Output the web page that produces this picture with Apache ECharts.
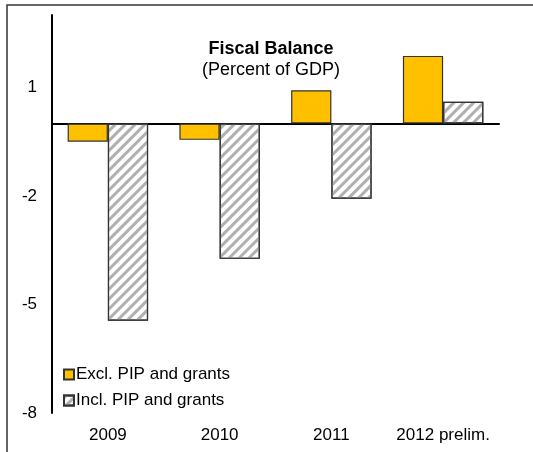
<!DOCTYPE html>
<html>
<head>
<meta charset="utf-8">
<script src="https://cdn.jsdelivr.net/npm/echarts@6/dist/echarts.min.js"></script>
<style>html,body{margin:0;padding:0;background:#fff;}#c{width:533px;height:452px;}</style>
</head>
<body>
<div id="c"></div>
<script>
const categories = ['2009', '2010', '2011', '2012 prelim.'];
const exclValues = [-0.5, -0.45, 0.92, 1.87];
const inclValues = [-5.45, -3.74, -2.08, 0.6];
const seriesNames = ['Excl. PIP and grants', 'Incl. PIP and grants'];
const titleText = 'Fiscal Balance';
const subtitleText = '(Percent of GDP)';

const chart = echarts.init(document.getElementById('c'), null, {renderer: 'canvas'});
const font = 'Liberation Sans, Arial, sans-serif';
chart.setOption({
  animation: false,
  backgroundColor: '#fff',
  textStyle: {fontFamily: font},
  graphic: [{
    type: 'rect', shape: {x: 7, y: 5, width: 600, height: 500},
    style: {fill: 'none', stroke: '#333', lineWidth: 1.5}, silent: true, z: -1
  }],
  title: {
    text: titleText, subtext: subtitleText, left: 266, top: 35, textAlign: 'center', itemGap: 3,
    textStyle: {fontFamily: font, fontSize: 18, fontWeight: 'bold', color: '#000'},
    subtextStyle: {fontFamily: font, fontSize: 18, color: '#000'}
  },
  legend: {
    orient: 'vertical', left: 58, top: 361, itemWidth: 10, itemHeight: 10, itemGap: 9, icon: 'rect',
    textStyle: {fontFamily: font, fontSize: 17, color: '#000', padding: [0, 0, 0, -3]},
    data: seriesNames
  },
  grid: {left: 52, right: 34, top: 15, bottom: 39},
  xAxis: [{
    type: 'category', data: categories,
    axisLine: {onZero: true, lineStyle: {color: '#000', width: 2}},
    axisTick: {show: false}, axisLabel: {show: false}
  }, {
    type: 'category', data: categories, position: 'bottom',
    axisLine: {show: false, onZero: false}, axisTick: {show: false},
    axisLabel: {fontFamily: font, fontSize: 17, color: '#000', margin: 14, interval: 0}
  }],
  yAxis: {
    type: 'value', min: -8, max: 3, interval: 3,
    axisLine: {show: true, lineStyle: {color: '#000', width: 2}},
    axisTick: {show: false}, splitLine: {show: false},
    axisLabel: {fontFamily: font, fontSize: 17, color: '#000', margin: 15, showMaxLabel: false}
  },
  series: [{
    name: seriesNames[0], type: 'bar', data: exclValues, barGap: '0%', barCategoryGap: '28%',
    itemStyle: {color: '#FFC000', borderColor: '#333', borderWidth: 1.2}
  }, {
    name: seriesNames[1], type: 'bar', data: inclValues, barGap: '0%', barCategoryGap: '28%',
    itemStyle: {
      color: '#fff', borderColor: '#333', borderWidth: 1.2,
      decal: {symbol: 'rect', symbolSize: 1, dashArrayX: [1, 0], dashArrayY: [3, 4],
              rotation: -Math.PI / 4, color: '#b0b0b0'}
    }
  }]
});
</script>
</body>
</html>
